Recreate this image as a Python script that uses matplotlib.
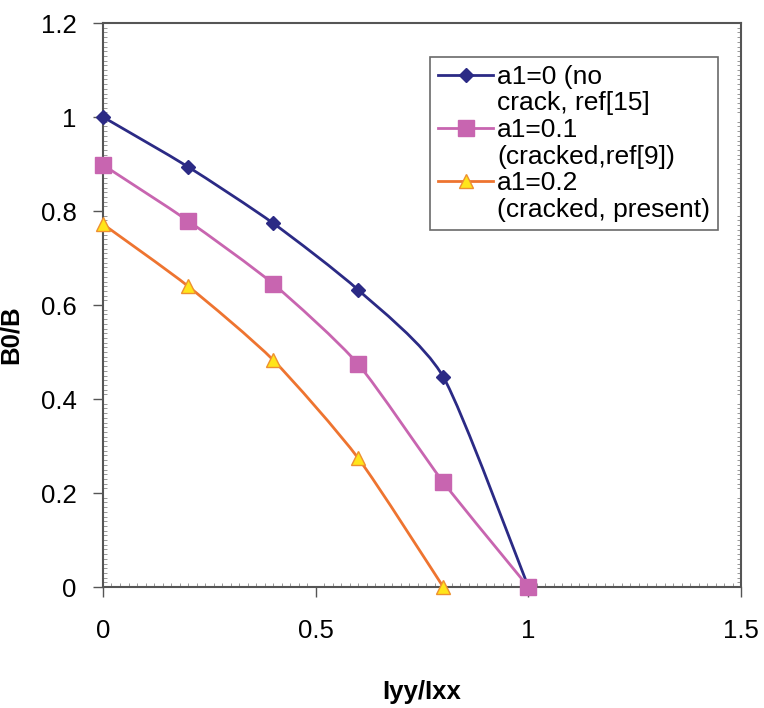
import matplotlib.pyplot as plt
from matplotlib.path import Path
from matplotlib.patches import PathPatch
from matplotlib.lines import Line2D
from matplotlib.ticker import MultipleLocator

plt.rcParams['font.family'] = ['Liberation Sans', 'DejaVu Sans']

ratio = [0, 0.2, 0.4, 0.6, 0.8, 1.0]
b_nocrack = [1.0, 0.894, 0.774, 0.632, 0.447, 0.0]
ratio_01 = [0, 0.2, 0.4, 0.6, 0.8, 1.0]
b_01 = [0.898, 0.779, 0.645, 0.474, 0.223, 0.0]
ratio_02 = [0, 0.2, 0.4, 0.6, 0.8]
b_02 = [0.772, 0.640, 0.483, 0.274, 0.0]

labels = ["a1=0 (no", "crack, ref[15]",
          "a1=0.1", "(cracked,ref[9])",
          "a1=0.2", "(cracked, present)"]


def smooth_path(xs, ys, k=9.0):
    # smoothed line like Excel: cubic Bezier segments through the points
    pts = list(zip(xs, ys))
    verts = [pts[0]]
    codes = [Path.MOVETO]
    n = len(pts)
    for i in range(n - 1):
        p0 = pts[i - 1] if i > 0 else pts[i]
        p1 = pts[i]
        p2 = pts[i + 1]
        p3 = pts[i + 2] if i + 2 < n else pts[i + 1]
        c1 = (p1[0] + (p2[0] - p0[0]) / k, p1[1] + (p2[1] - p0[1]) / k)
        c2 = (p2[0] - (p3[0] - p1[0]) / k, p2[1] - (p3[1] - p1[1]) / k)
        verts += [c1, c2, p2]
        codes += [Path.CURVE4] * 3
    return Path(verts, codes)


fig = plt.figure(figsize=(7.64, 7.08), dpi=100)
ax = fig.add_axes([0.1348, 0.1709, 0.8352, 0.7966])

series = [
    (ratio, b_nocrack, '#2B2A85', dict(marker='D', markersize=7,
                                      markerfacecolor='#2B2A85', markeredgecolor='#2B2A85')),
    (ratio_01, b_01, '#C865B0', dict(marker='s', markersize=11,
                                    markerfacecolor='#C865B0', markeredgecolor='#C865B0')),
    (ratio_02, b_02, '#EE7430', dict(marker='^', markersize=10,
                                    markerfacecolor='#FFE51A', markeredgecolor='#EE9030')),
]

handles = []
for xs, ys, col, mk in series:
    ax.add_patch(PathPatch(smooth_path(xs, ys), facecolor='none',
                           edgecolor=col, lw=2, zorder=2))
    ax.plot(xs, ys, linestyle='none', zorder=3, clip_on=False, **mk)
    handles.append(Line2D([], [], color=col, lw=2, **mk))
    handles.append(Line2D([], [], color='none'))

ax.set_xlim(0, 1.5)
ax.set_ylim(0, 1.2)
ax.xaxis.set_major_locator(MultipleLocator(0.5))
ax.yaxis.set_major_locator(MultipleLocator(0.2))
ax.xaxis.set_minor_locator(MultipleLocator(0.02))
ax.yaxis.set_minor_locator(MultipleLocator(0.01))
ax.xaxis.set_major_formatter(plt.FuncFormatter(lambda v, p: f"{v:g}"))
ax.yaxis.set_major_formatter(plt.FuncFormatter(lambda v, p: f"{v:g}"))
ax.tick_params(which='major', direction='out', length=7, width=1, color='#555555',
               labelsize=18.5, pad=12)
ax.tick_params(which='minor', direction='in', length=3, width=0.6, color='#888888',
               right=True)
ax.tick_params(axis='x', which='major', pad=16)
for s in ax.spines.values():
    s.set_color('#555555')
    s.set_linewidth(1.5)

ax.set_xlabel('Iyy/Ixx', fontsize=18.5, fontweight='bold', labelpad=27)
ax.set_ylabel('B0/B', fontsize=18.5, fontweight='bold', labelpad=4)
ax.yaxis.set_label_coords(-0.125, 0.447)

leg = ax.legend(handles, labels, loc='upper right', bbox_to_anchor=(0.964, 0.94),
                fontsize=19, labelspacing=0.1, handlelength=2.1, handletextpad=0.15,
                borderpad=0.3, borderaxespad=0, frameon=True, fancybox=False)
leg.get_frame().set_edgecolor('#444444')
leg.get_frame().set_linewidth(1.2)

fig.savefig('out.png', dpi=100)
